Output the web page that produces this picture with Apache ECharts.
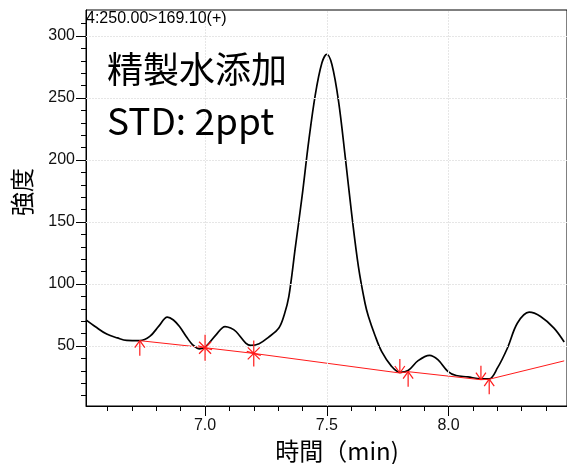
<!DOCTYPE html>
<html>
<head>
<meta charset="utf-8">
<script src="https://cdn.jsdelivr.net/npm/echarts@6/dist/echarts.min.js"></script>
<style>html,body{margin:0;padding:0;background:#fff}#c{width:567px;height:464px}</style>
</head>
<body>
<div id="c"></div>
<script>
// Chromatogram trace (time in min, intensity)
const traceTime = [6.511,6.55,6.596,6.64,6.678,6.732,6.773,6.81,6.845,6.87,6.895,6.925,6.949,6.977,7.004,7.045,7.082,7.105,7.127,7.167,7.188,7.222,7.26,7.303,7.325,7.344,7.371,7.398,7.426,7.453,7.480,7.500,7.521,7.548,7.576,7.602,7.630,7.657,7.671,7.698,7.725,7.766,7.800,7.834,7.875,7.922,7.956,7.997,8.031,8.079,8.133,8.167,8.201,8.242,8.283,8.331,8.378,8.433,8.475];
const traceIntensity = [71.1,65.5,59.6,56.5,54.5,54.3,57.7,66,73.3,71,65.7,57,51,47.6,49.7,59,65.7,64.5,61.7,52.4,50.5,51.8,57,64.5,75,89.8,130,170,215.6,253,278.4,285.3,277,247.7,202,156.7,113.9,84.5,73.8,58.5,45.7,33.6,28.8,30.2,38.2,42.5,39,29.6,26.2,25.1,23.5,23.5,32.3,48.4,68.5,77.3,73.8,64.4,53.2];
// Red integration baseline
const baseTime = [6.732,7.0,7.2,7.8,7.834,8.133,8.167,8.475];
const baseIntensity = [54.3,48.6,44.0,28.2,29.3,22.8,23.2,38.0];
// Peak markers
const markTime = [6.732,7.0,7.2,7.8,7.834,8.133,8.167];
const markIntensity = [54.3,48.6,44.0,28.2,29.3,22.8,23.2];
const markKind = ['up','star','star','down','up','down','up'];
// Axis ticks & labels
const xMajor = [7.0,7.5,8.0];
const xMinor = [6.6,6.7,6.8,6.9,7.1,7.2,7.3,7.4,7.6,7.7,7.8,7.9,8.1,8.2,8.3,8.4];
const yMajor = [50,100,150,200,250,300];
const yMinor = [10,20,30,40,60,70,80,90,110,120,130,140,160,170,180,190,210,220,230,240,260,270,280,290,310];
const xRange = [6.511,8.4865];
const yRange = [1.6,321];
const xTitle = '時間（min)';
const yTitle = '強度';
const channelText = '4:250.00>169.10(+)';
const noteLines = ['精製水添加','STD: 2ppt'];

const chart = echarts.init(document.getElementById('c'), null, {renderer:'canvas'});
const kindCode = {up:0, down:1, star:2};
const black = '#000';
const red = '#ff1a1a';
const labelFont = 'Liberation Sans, Arial, sans-serif';
const cjkFont = '"Noto Sans CJK JP", "Noto Sans", sans-serif';

function xAx(ticks, len, labels){
  return {
    type:'value', min:xRange[0], max:xRange[1], position:'bottom',
    axisLine:{show:!!labels, lineStyle:{color:black,width:1}},
    axisTick:{show:true, customValues:ticks, length:len, lineStyle:{color:black,width:1}},
    axisLabel: labels ? {customValues:labels, formatter:v=>v.toFixed(1), fontSize:16, color:'#111', margin:12, fontFamily:labelFont} : {show:false},
    splitLine:{show:false}
  };
}
function yAx(ticks, len, labels){
  return {
    type:'value', min:yRange[0], max:yRange[1], position:'left',
    axisLine:{show:!!labels, lineStyle:{color:black,width:1}},
    axisTick:{show:true, customValues:ticks, length:len, lineStyle:{color:black,width:1}},
    axisLabel: labels ? {customValues:labels, formatter:v=>String(v), fontSize:16, color:'#111', margin:11, fontFamily:labelFont} : {show:false},
    splitLine:{show:false}
  };
}

const gridLines = xMajor.map(v=>({xAxis:v})).concat(yMajor.map(v=>({yAxis:v})));

chart.setOption({
  animation:false,
  backgroundColor:'#fff',
  grid:{left:86, top:10, right:-3, bottom:58, show:true, borderColor:black, borderWidth:1, backgroundColor:'transparent'},
  xAxis:[xAx(xMajor,10,xMajor), xAx(xMinor,5,null)],
  yAxis:[yAx(yMajor,10,yMajor), yAx(yMinor,5,null)],
  series:[
    {
      type:'line', xAxisIndex:0, yAxisIndex:0, z:1, silent:true,
      data:[], showSymbol:false,
      markLine:{silent:true, symbol:['none','none'], label:{show:false},
        lineStyle:{color:'#e6e6e6', width:1, type:[2,1]}, data:gridLines}
    },
    {
      type:'line', xAxisIndex:0, yAxisIndex:0, z:3,
      data:traceTime.map((t,i)=>[t,traceIntensity[i]]),
      smooth:0.35, showSymbol:false,
      lineStyle:{color:black, width:1.7}
    },
    {
      type:'line', xAxisIndex:0, yAxisIndex:0, z:4,
      data:baseTime.map((t,i)=>[t,baseIntensity[i]]),
      showSymbol:false,
      lineStyle:{color:red, width:1}
    },
    {
      type:'custom', xAxisIndex:0, yAxisIndex:0, z:5,
      data:markTime.map((t,i)=>[t,markIntensity[i],kindCode[markKind[i]]]),
      renderItem:function(params, api){
        const p = api.coord([api.value(0), api.value(1)]);
        const k = api.value(2);
        const x = p[0], y = p[1];
        const st = {stroke:red, lineWidth:1.2};
        const L = (x1,y1,x2,y2)=>({type:'line', shape:{x1:x+x1,y1:y+y1,x2:x+x2,y2:y+y2}, style:st});
        let ch;
        if (k===0) ch=[L(0,0,0,15),L(0,0,-5,7),L(0,0,5,7)];
        else if (k===1) ch=[L(0,0,0,-14),L(0,0,-5,-7),L(0,0,5,-7)];
        else ch=[L(0,-13,0,13),L(-6,-6,6,6),L(-6,6,6,-6),L(-7,-2,7,2)];
        return {type:'group', children:ch};
      }
    }
  ],
  graphic:[
    {type:'text', x:86, y:11, z:10, style:{text:channelText, font:'16px '+labelFont, fill:'#000', textAlign:'left', textVerticalAlign:'top'}},
    {type:'text', x:107, y:69, z:10, style:{text:noteLines[0], font:'36px '+cjkFont, fill:'#000', textAlign:'left', textVerticalAlign:'middle'}},
    {type:'text', x:107, y:121, z:10, style:{text:noteLines[1], font:'37px '+cjkFont, fill:'#000', textAlign:'left', textVerticalAlign:'middle'}},
    {type:'text', x:337, y:451, z:10, style:{text:xTitle, font:'24px '+cjkFont, fill:'#000', textAlign:'center', textVerticalAlign:'middle'}},
    {type:'text', x:22, y:192, rotation:Math.PI/2, z:10, style:{text:yTitle, font:'24px '+cjkFont, fill:'#000', textAlign:'center', textVerticalAlign:'middle'}}
  ]
});
</script>
</body>
</html>
